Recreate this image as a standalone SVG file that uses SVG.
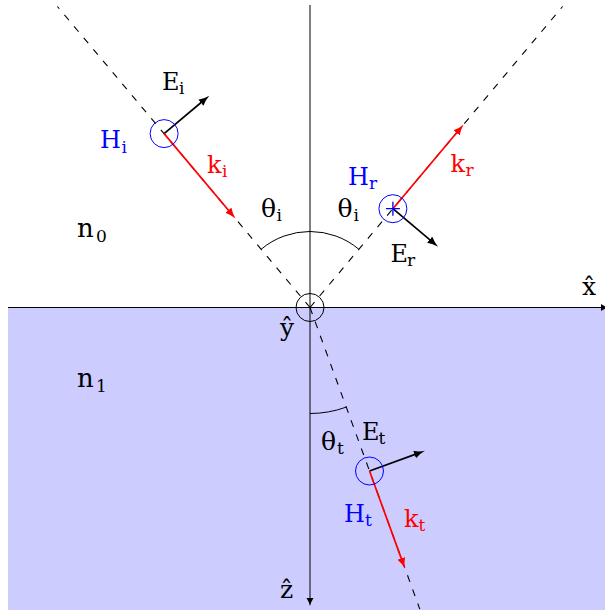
<svg xmlns="http://www.w3.org/2000/svg" width="605" height="615" viewBox="0 0 605 615">
<defs>
<marker id="ahK" markerUnits="userSpaceOnUse" markerWidth="12" markerHeight="9" refX="5" refY="4" orient="auto">
<path d="M0,0 Q5,3 11,4 Q5,5 0,8 z" fill="#000"/>
</marker>
<marker id="ahR" markerUnits="userSpaceOnUse" markerWidth="12" markerHeight="9" refX="5" refY="4" orient="auto">
<path d="M0,0 Q5,3 11,4 Q5,5 0,8 z" fill="#ff0000"/>
</marker>
<marker id="ahA" markerUnits="userSpaceOnUse" markerWidth="10" markerHeight="8" refX="4" refY="3.5" orient="auto">
<path d="M0,0 Q4,2.6 8,3.5 Q4,4.4 0,7 z" fill="#000"/>
</marker>
</defs>
<style>
text{font-family:"DejaVu Serif","Liberation Serif",serif;font-size:24px;fill:#000}
.sub{font-size:17px}
.th{font-size:25px}
.nn{font-size:26px}
.hat{font-size:25px}
.blue{fill:#0000ff}
.red{fill:#ff0000}
.dash{stroke:#000;stroke-width:1.1;stroke-dasharray:7 8;fill:none}
.axis{stroke:#000;stroke-width:1;fill:none}
.vk{stroke:#000;stroke-width:1.7;fill:none;marker-end:url(#ahK)}
.vr{stroke:#ff0000;stroke-width:1.7;fill:none;marker-end:url(#ahR)}
.ring{stroke:#0000ff;stroke-width:1;fill:none}
</style>
<rect x="8" y="307.5" width="597" height="302.5" fill="#ccccff"/>
<g id="connectors">
<line class="axis" x1="8" y1="307.5" x2="605" y2="307.5" marker-end="url(#ahA)"/>
<line class="axis" x1="310" y1="5" x2="310" y2="602" marker-end="url(#ahA)"/>
<path class="dash" d="M310,307.5 L57.4,6.5"/>
<path class="dash" d="M310,307.5 L562.6,6.5"/>
<path class="dash" d="M310,307.5 L419.8,609.1"/>
<path class="axis" d="M261.1,249.3 A76,76 0 0 1 358.9,249.3"/>
<path class="axis" d="M310,413.5 A106,106 0 0 0 346.3,407.1"/>
</g>
<g id="origin">
<circle cx="310" cy="307.5" r="14" fill="none" stroke="#000" stroke-width="1"/>
</g>
<g id="incident">
<line class="vk" x1="164.1" y1="133.6" x2="204.7" y2="99.5"/>
<line class="vr" x1="164.1" y1="133.6" x2="231.6" y2="214.0"/>
<circle class="ring" cx="164.1" cy="133.6" r="14"/>
</g>
<g id="reflected">
<line class="vr" x1="392.9" y1="208.7" x2="459.8" y2="129.0"/>
<line class="vk" x1="392.9" y1="208.7" x2="433.5" y2="242.8"/>
<circle class="ring" cx="392.9" cy="208.7" r="14"/>
<path d="M385.9,208.7 H399.9 M392.9,201.7 V215.7" stroke="#0000ff" stroke-width="1.3"/>
</g>
<g id="transmitted">
<line class="vk" x1="369.5" y1="471" x2="419.3" y2="452.9"/>
<line class="vr" x1="369.5" y1="471" x2="403.0" y2="563.1"/>
<circle class="ring" cx="369.5" cy="471" r="14"/>
</g>
<g id="labels">
<text x="162" y="90">E</text><text class="sub" x="179" y="94">i</text>
<text class="blue" x="100" y="148">H</text><text class="sub blue" x="121.5" y="152.5">i</text>
<text class="red" x="207" y="173">k</text><text class="sub red" x="222" y="177">i</text>
<text class="nn" x="77" y="237">n</text><text class="sub" x="96" y="241.5">0</text>
<text class="nn" x="77" y="387">n</text><text class="sub" x="96" y="391.5">1</text>
<text class="th" x="261" y="217">θ</text><text class="sub" x="276.5" y="220.5">i</text>
<text class="th" x="337.5" y="217">θ</text><text class="sub" x="353.5" y="220.5">i</text>
<text class="blue" x="348" y="185">H</text><text class="sub blue" x="369" y="189">r</text>
<text class="red" x="450.5" y="172">k</text><text class="sub red" x="465.5" y="176">r</text>
<text x="390.5" y="262">E</text><text class="sub" x="407" y="265.5">r</text>
<text class="hat" x="582" y="295">x̂</text>
<text class="hat" x="280" y="336">ŷ</text>
<text class="hat" x="280" y="598">ẑ</text>
<text class="th" x="321" y="450">θ</text><text class="sub" x="337" y="453.5">t</text>
<text x="362" y="440">E</text><text class="sub" x="378.5" y="443.5">t</text>
<text class="blue" x="344" y="522">H</text><text class="sub blue" x="365" y="525.5">t</text>
<text class="red" x="404" y="527">k</text><text class="sub red" x="418.5" y="530.5">t</text>
</g>
</svg>
